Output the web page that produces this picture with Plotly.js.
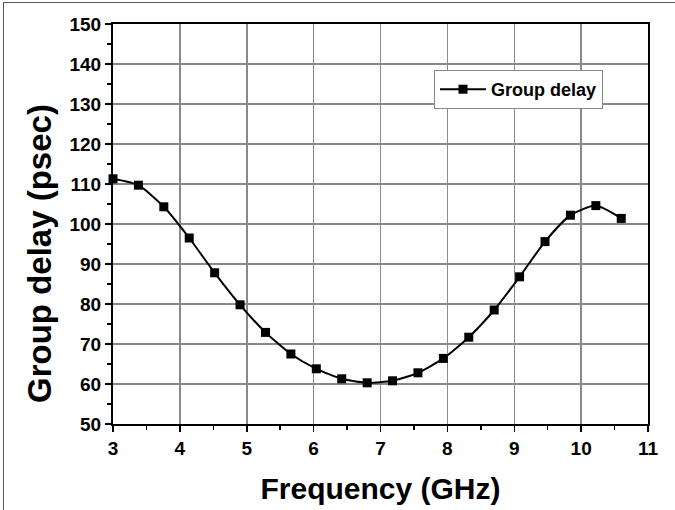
<!DOCTYPE html>
<html>
<head>
<meta charset="utf-8">
<script src="https://cdn.plot.ly/plotly-3.0.1.min.js"></script>
<style>
  html, body { margin: 0; padding: 0; background: #fff; }
  #wrap { position: relative; width: 675px; height: 510px; overflow: hidden; }
  #chart { width: 675px; height: 510px; }
  #frame { position: absolute; left: 3px; top: 2px; width: 680px; height: 520px;
           border: 1.5px solid #555; pointer-events: none; box-sizing: border-box; }
</style>
</head>
<body>
<div id="wrap">
  <div id="chart"></div>
  <div id="frame"></div>
</div>
<script>
const frequency = [3.00, 3.38, 3.76, 4.14, 4.52, 4.90, 5.28, 5.66, 6.04, 6.42, 6.80,
                   7.18, 7.56, 7.94, 8.32, 8.70, 9.08, 9.46, 9.84, 10.22, 10.60];
const groupDelay = [111.3, 109.7, 104.3, 96.5, 87.8, 79.8, 72.9, 67.5, 63.8, 61.3, 60.3,
                    60.8, 62.8, 66.4, 71.7, 78.5, 86.8, 95.6, 102.2, 104.6, 101.4];
const seriesName = 'Group delay';
const xTitle = 'Frequency (GHz)';
const yTitle = 'Group delay (psec)';
const xTicks = [3, 4, 5, 6, 7, 8, 9, 10, 11];
const yTicks = [50, 60, 70, 80, 90, 100, 110, 120, 130, 140, 150];

const fontFam = '"Liberation Sans", Arial, sans-serif';

const trace = {
  x: frequency, y: groupDelay, name: seriesName,
  type: 'scatter', mode: 'lines+markers',
  line: { color: '#000', width: 2, shape: 'spline', smoothing: 0.6 },
  marker: { symbol: 'square', size: 9, color: '#000' },
  cliponaxis: false
};

const axisCommon = {
  showline: true, linecolor: '#000', linewidth: 2, mirror: true,
  showgrid: true, gridcolor: '#8a8a8a', gridwidth: 1.5,
  ticks: 'outside', ticklen: 6, tickwidth: 1.5, tickcolor: '#000',
  zeroline: false,
  tickfont: { family: fontFam, size: 19, color: '#000', weight: 'bold' },
  minor: { ticks: 'outside', ticklen: 4, tickwidth: 1.5, tickcolor: '#000', showgrid: false }
};

const layout = {
  width: 675, height: 510,
  margin: { l: 113, r: 27, t: 24, b: 86 },
  paper_bgcolor: '#fff', plot_bgcolor: '#fff',
  showlegend: true,
  legend: {
    x: 0.6, y: 0.885, xanchor: 'left', yanchor: 'top',
    bgcolor: '#fff', bordercolor: '#888', borderwidth: 1,
    font: { family: fontFam, size: 18, color: '#000', weight: 'bold' },
    itemwidth: 46
  },
  xaxis: Object.assign({}, axisCommon, {
    range: [3, 11], tickvals: xTicks, ticktext: xTicks.map(String),
    minor: Object.assign({}, axisCommon.minor, { dtick: 0.5, tick0: 3 }),
    title: { text: xTitle, standoff: 20,
             font: { family: fontFam, size: 30, color: '#000', weight: 'bold' } }
  }),
  yaxis: Object.assign({}, axisCommon, {
    range: [50, 150], tickvals: yTicks, ticktext: yTicks.map(String),
    minor: Object.assign({}, axisCommon.minor, { dtick: 5, tick0: 50 })
  }),
  annotations: [{
    text: yTitle, xref: 'paper', yref: 'paper',
    x: -0.1364, y: 0.425, xanchor: 'center', yanchor: 'middle',
    textangle: -90, showarrow: false,
    font: { family: fontFam, size: 33, color: '#000', weight: 'bold' }
  }]
};

Plotly.newPlot('chart', [trace], layout, { displayModeBar: false, staticPlot: true });
</script>
</body>
</html>
